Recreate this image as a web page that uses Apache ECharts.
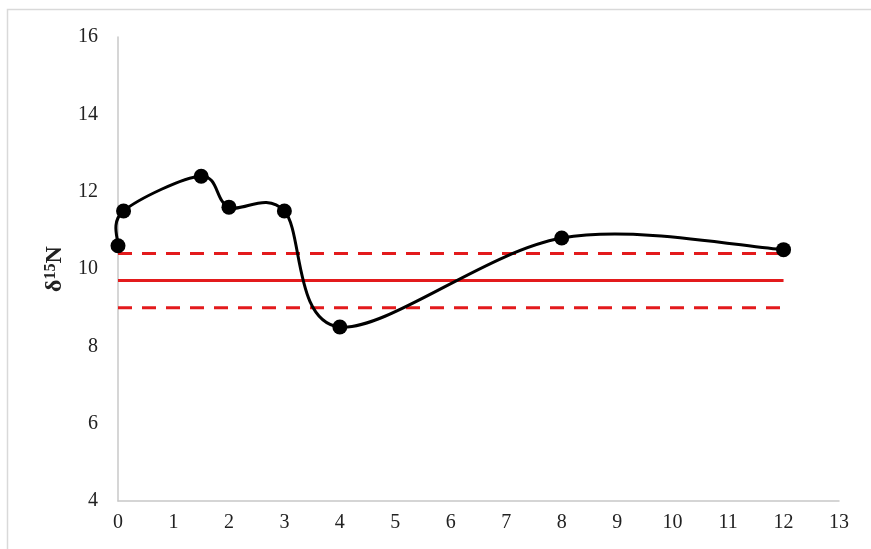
<!DOCTYPE html>
<html>
<head>
<meta charset="utf-8">
<script src="https://cdn.jsdelivr.net/npm/echarts@6/dist/echarts.min.js"></script>
<style>
  html, body { margin: 0; padding: 0; background: #fff; }
  #chart { width: 871px; height: 549px; }
</style>
</head>
<body>
<div id="chart"></div>
<script>
// 测量点
const xValues = [0, 0.1, 1.5, 2, 3, 4, 8, 12];
const d15N = [10.6, 11.5, 12.4, 11.6, 11.5, 8.5, 10.8, 10.5];
// 参考线（平均值 ± 范围）
const refX = [0, 12];
const refMean = 9.7;
const refUpper = 10.4;
const refLower = 9.0;
const xTicks = [0, 13, 1];
const yTicks = [4, 16, 2];

let myChart = echarts.init(document.querySelector('#chart'));

const serif = '"Liberation Serif", "Times New Roman", serif';
const points = xValues.map((x, i) => [x, d15N[i]]);

const refLine = (v, dashed) => ({
    type: 'line',
    data: refX.map(x => [x, v]),
    symbol: 'none',
    silent: true,
    lineStyle: { color: '#e31a1c', width: 3, type: dashed ? [14, 10] : 'solid' },
    z: 1
});

// Excel 风格的平滑曲线（Catmull-Rom -> Bezier），每段一个元素
function renderSegment(params, api) {
    const i = params.dataIndex;
    const n = points.length;
    if (i >= n - 1) return null;
    const p = j => api.coord(points[Math.max(0, Math.min(n - 1, j))]);
    const p0 = p(i - 1), p1 = p(i), p2 = p(i + 1), p3 = p(i + 2);
    return {
        type: 'bezierCurve',
        shape: {
            x1: p1[0], y1: p1[1],
            x2: p2[0], y2: p2[1],
            cpx1: p1[0] + (p2[0] - p0[0]) / 6, cpy1: p1[1] + (p2[1] - p0[1]) / 6,
            cpx2: p2[0] - (p3[0] - p1[0]) / 6, cpy2: p2[1] - (p3[1] - p1[1]) / 6
        },
        style: { stroke: '#000', lineWidth: 3, fill: 'none' }
    };
}

myChart.setOption({
    animation: false,
    graphic: [{
        type: 'rect',
        shape: { x: 7.5, y: 9.5, width: 880, height: 560 },
        style: { fill: 'none', stroke: '#d9d9d9', lineWidth: 1.5 },
        silent: true
    }],
    grid: { left: 118, right: 32, top: 37, bottom: 48 },
    xAxis: {
        type: 'value',
        min: xTicks[0], max: xTicks[1], interval: xTicks[2],
        axisLine: { lineStyle: { color: '#c8c8c8', width: 1.5 } },
        axisTick: { show: false },
        splitLine: { show: false },
        axisLabel: { color: '#222', fontFamily: serif, fontSize: 20, margin: 12 }
    },
    yAxis: {
        type: 'value',
        min: yTicks[0], max: yTicks[1], interval: yTicks[2],
        name: '{a|δ}{s|15}{a|N}',
        nameLocation: 'middle',
        nameRotate: 90,
        nameGap: 50,
        nameTextStyle: {
            rich: {
                a: { fontFamily: serif, fontSize: 24, fontWeight: 'bold', color: '#222' },
                s: { fontFamily: serif, fontSize: 16, fontWeight: 'bold', color: '#222', verticalAlign: 'bottom', padding: [0, 0, 9, 0] }
            }
        },
        axisLine: { show: true, lineStyle: { color: '#c8c8c8', width: 1.5 } },
        axisTick: { show: false },
        splitLine: { show: false },
        axisLabel: { color: '#222', fontFamily: serif, fontSize: 20, margin: 20 }
    },
    series: [
        refLine(refUpper, true),
        refLine(refMean, false),
        refLine(refLower, true),
        {
            type: 'custom',
            data: points,
            renderItem: renderSegment,
            silent: true,
            z: 3
        },
        {
            type: 'scatter',
            data: points,
            symbol: 'circle',
            symbolSize: 15,
            itemStyle: { color: '#000', opacity: 1 },
            z: 4
        }
    ]
});
</script>
</body>
</html>
